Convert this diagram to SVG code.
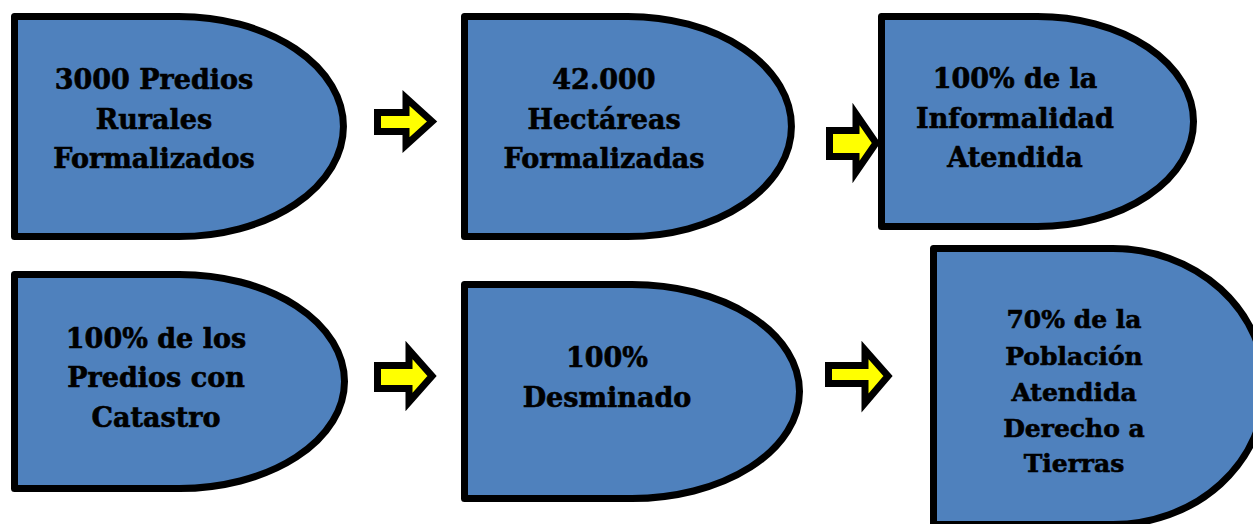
<svg xmlns="http://www.w3.org/2000/svg" width="1253" height="524" viewBox="0 0 1253 524">
<style>
.node path{fill:#4F81BD;stroke:#000;stroke-width:7;stroke-linejoin:round}
.node text{font-family:"DejaVu Serif","Liberation Serif",serif;font-weight:bold;font-size:27px;fill:#000;stroke:#000;stroke-width:0.6;text-anchor:middle}
#n6 text{font-size:25px}
.arrows polygon{fill:#FFFF00;stroke:#000;stroke-width:7;stroke-linejoin:miter;stroke-miterlimit:10}
</style>
<rect width="1253" height="524" fill="#fff"/>
<g id="n1" class="node">
<path d="M14.5,16.5 H179 A164.5,110 0 0 1 179,236.5 H14.5 Z"/>
<text x="154" y="89">3000 Predios</text>
<text x="154" y="129">Rurales</text>
<text x="154" y="168">Formalizados</text>
</g>
<g id="n2" class="node">
<path d="M464.5,16.5 H628 A163.5,110 0 0 1 628,236.5 H464.5 Z"/>
<text x="604" y="89">42.000</text>
<text x="604" y="129">Hectáreas</text>
<text x="604" y="168">Formalizadas</text>
</g>
<g id="n3" class="node">
<path d="M881.5,16.5 H1037.5 A156,105 0 0 1 1037.5,226.5 H881.5 Z"/>
<text x="1015" y="88">100% de la</text>
<text x="1015" y="128">Informalidad</text>
<text x="1015" y="167">Atendida</text>
</g>
<g id="n4" class="node">
<path d="M14.5,274.5 H179.5 A165,107 0 0 1 179.5,488.5 H14.5 Z"/>
<text x="156" y="348">100% de los</text>
<text x="156" y="387">Predios con</text>
<text x="156" y="427">Catastro</text>
</g>
<g id="n5" class="node">
<path d="M464.5,284.5 H632 A167.5,107 0 0 1 632,498.5 H464.5 Z"/>
<text x="607" y="367">100%</text>
<text x="607" y="407">Desminado</text>
</g>
<g id="n6" class="node">
<path d="M933.5,248.5 H1113 A152,138 0 0 1 1113,524.5 H933.5 Z"/>
<text x="1074" y="328">70% de la</text>
<text x="1074" y="365">Población</text>
<text x="1074" y="401">Atendida</text>
<text x="1074" y="437">Derecho a</text>
<text x="1074" y="472">Tierras</text>
</g>
<g id="connectors" class="arrows">
<polygon points="377.5,112.5 406,112.5 406,98 432,121.5 406,145 406,131.5 377.5,131.5"/>
<polygon points="829.5,130.5 856,130.5 856,114 876,143 856,172 856,156.5 829.5,156.5"/>
<polygon points="377.5,365.5 409,365.5 409,350 432,376 409,402 409,388.5 377.5,388.5"/>
<polygon points="828.5,365.5 865,365.5 865,350 888,376 865,403 865,383.5 828.5,383.5"/>
</g>
</svg>
